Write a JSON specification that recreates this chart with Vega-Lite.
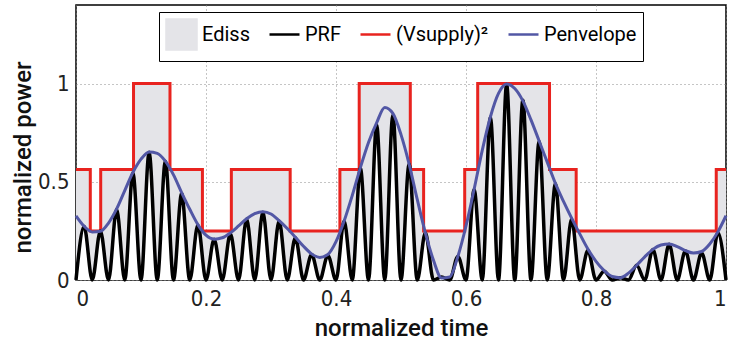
{
  "$schema": "https://vega.github.io/schema/vega-lite/v6.json",
  "width": 650,
  "height": 275,
  "autosize": {"type": "none"},
  "padding": {"left": 76, "top": 5, "right": 8, "bottom": 62},
  "background": "white",
  "config": {
    "view": {"stroke": "#000000", "strokeWidth": 1.5},
    "axis": {
      "domain": false,
      "ticks": false,
      "grid": true,
      "gridColor": "#8a8a8a",
      "gridDash": [1, 3],
      "gridWidth": 1,
      "labelFont": "Liberation Sans Narrow, DejaVu Sans Condensed, sans-serif",
      "labelFontSize": 22,
      "labelColor": "#222222",
      "titleFont": "Roboto, sans-serif",
      "titleFontWeight": 500,
      "titleFontSize": 24,
      "titleColor": "#111111"
    },
    "legend": {
      "title": null,
      "orient": "none",
      "legendX": 83,
      "legendY": 7,
      "direction": "horizontal",
      "columns": 4,
      "gridAlign": "none",
      "columnPadding": 14,
      "padding": 6,
      "fillColor": "white",
      "strokeColor": "#000000",
      "labelFont": "Roboto, sans-serif",
      "labelFontSize": 20,
      "labelColor": "#000000",
      "labelOffset": 4,
      "symbolSize": 900
    }
  },
  "datasets": {
    "supply": [
      {"t": 0, "v": 0.5625}, {"t": 0.022, "v": 0.25}, {"t": 0.038, "v": 0.5625},
      {"t": 0.0885, "v": 1}, {"t": 0.1446, "v": 0.5625}, {"t": 0.1945, "v": 0.25},
      {"t": 0.239, "v": 0.5625}, {"t": 0.3295, "v": 0.25}, {"t": 0.406, "v": 0.5625},
      {"t": 0.4357, "v": 1}, {"t": 0.5143, "v": 0.5625}, {"t": 0.5348, "v": 0.25},
      {"t": 0.598, "v": 0.5625}, {"t": 0.618, "v": 1}, {"t": 0.7285, "v": 0.5625},
      {"t": 0.7695, "v": 0.25}, {"t": 0.985, "v": 0.5625}, {"t": 1, "v": 0.5625}
    ],
    "rf": [
      {"t":0,"p":0},{"t":0.0125,"p":0.272},{"t":0.025,"p":0},{"t":0.0375,"p":0.25},{"t":0.05,"p":0},{"t":0.0625,"p":0.36},{"t":0.075,"p":0},{"t":0.0875,"p":0.545},{"t":0.1,"p":0},{"t":0.1125,"p":0.65},{"t":0.125,"p":0},{"t":0.1375,"p":0.605},{"t":0.15,"p":0},{"t":0.1625,"p":0.44},{"t":0.175,"p":0},{"t":0.1875,"p":0.28},{"t":0.2,"p":0},{"t":0.2125,"p":0.208},{"t":0.225,"p":0},{"t":0.2375,"p":0.235},{"t":0.25,"p":0},{"t":0.2625,"p":0.31},{"t":0.275,"p":0},{"t":0.2875,"p":0.345},{"t":0.3,"p":0},{"t":0.3125,"p":0.3},{"t":0.325,"p":0},{"t":0.3375,"p":0.215},{"t":0.35,"p":0},{"t":0.3625,"p":0.13},{"t":0.375,"p":0},{"t":0.3875,"p":0.125},{"t":0.4,"p":0},{"t":0.4125,"p":0.3},{"t":0.425,"p":0},{"t":0.4375,"p":0.57},{"t":0.45,"p":0},{"t":0.4625,"p":0.79},{"t":0.475,"p":0},{"t":0.4875,"p":0.84},{"t":0.5,"p":0},{"t":0.5125,"p":0.59},{"t":0.525,"p":0},{"t":0.5375,"p":0.24},{"t":0.55,"p":0},{"t":0.5625,"p":0.015},{"t":0.575,"p":0},{"t":0.5875,"p":0.12},{"t":0.6,"p":0},{"t":0.6125,"p":0.46},{"t":0.625,"p":0},{"t":0.6375,"p":0.83},{"t":0.65,"p":0},{"t":0.6625,"p":0.995},{"t":0.675,"p":0},{"t":0.6875,"p":0.915},{"t":0.7,"p":0},{"t":0.7125,"p":0.706},{"t":0.725,"p":0},{"t":0.7375,"p":0.49},{"t":0.75,"p":0},{"t":0.7625,"p":0.31},{"t":0.775,"p":0},{"t":0.7875,"p":0.15},{"t":0.8,"p":0},{"t":0.8125,"p":0.045},{"t":0.825,"p":0},{"t":0.8375,"p":0.012},{"t":0.85,"p":0},{"t":0.8625,"p":0.075},{"t":0.875,"p":0},{"t":0.8875,"p":0.155},{"t":0.9,"p":0},{"t":0.9125,"p":0.182},{"t":0.925,"p":0},{"t":0.9375,"p":0.148},{"t":0.95,"p":0},{"t":0.9625,"p":0.138},{"t":0.975,"p":0},{"t":0.9875,"p":0.24},{"t":1,"p":0}
    ],
    "env": [
      {"t":0,"p":0.327},{"t":0.0125,"p":0.274},{"t":0.025,"p":0.245},{"t":0.0375,"p":0.248},{"t":0.05,"p":0.29},{"t":0.0625,"p":0.362},{"t":0.075,"p":0.455},{"t":0.0875,"p":0.547},{"t":0.1,"p":0.615},{"t":0.1125,"p":0.652},{"t":0.125,"p":0.645},{"t":0.1375,"p":0.605},{"t":0.15,"p":0.535},{"t":0.1625,"p":0.445},{"t":0.175,"p":0.36},{"t":0.1875,"p":0.282},{"t":0.2,"p":0.228},{"t":0.2125,"p":0.208},{"t":0.225,"p":0.215},{"t":0.2375,"p":0.24},{"t":0.25,"p":0.275},{"t":0.2625,"p":0.312},{"t":0.275,"p":0.338},{"t":0.2875,"p":0.348},{"t":0.3,"p":0.336},{"t":0.3125,"p":0.302},{"t":0.325,"p":0.262},{"t":0.3375,"p":0.218},{"t":0.35,"p":0.172},{"t":0.3625,"p":0.133},{"t":0.375,"p":0.115},{"t":0.3875,"p":0.13},{"t":0.4,"p":0.195},{"t":0.4125,"p":0.3},{"t":0.425,"p":0.43},{"t":0.4375,"p":0.572},{"t":0.45,"p":0.7},{"t":0.4625,"p":0.8},{"t":0.475,"p":0.878},{"t":0.4875,"p":0.848},{"t":0.5,"p":0.74},{"t":0.5125,"p":0.59},{"t":0.525,"p":0.41},{"t":0.5375,"p":0.24},{"t":0.55,"p":0.1},{"t":0.5625,"p":0.01},{"t":0.575,"p":0.015},{"t":0.5875,"p":0.12},{"t":0.6,"p":0.275},{"t":0.6125,"p":0.462},{"t":0.625,"p":0.66},{"t":0.6375,"p":0.83},{"t":0.65,"p":0.95},{"t":0.6625,"p":0.998},{"t":0.675,"p":0.975},{"t":0.6875,"p":0.912},{"t":0.7,"p":0.815},{"t":0.7125,"p":0.708},{"t":0.725,"p":0.6},{"t":0.7375,"p":0.492},{"t":0.75,"p":0.4},{"t":0.7625,"p":0.315},{"t":0.775,"p":0.235},{"t":0.7875,"p":0.158},{"t":0.8,"p":0.095},{"t":0.8125,"p":0.048},{"t":0.825,"p":0.018},{"t":0.8375,"p":0.012},{"t":0.85,"p":0.035},{"t":0.8625,"p":0.075},{"t":0.875,"p":0.118},{"t":0.8875,"p":0.156},{"t":0.9,"p":0.178},{"t":0.9125,"p":0.183},{"t":0.925,"p":0.17},{"t":0.9375,"p":0.15},{"t":0.95,"p":0.137},{"t":0.9625,"p":0.145},{"t":0.975,"p":0.183},{"t":0.9875,"p":0.245},{"t":1,"p":0.327}
    ]
  },
  "encoding": {
    "x": {
      "field": "t", "type": "quantitative",
      "scale": {"domain": [0, 1], "nice": false, "zero": false},
      "axis": {"values": [0, 0.2, 0.4, 0.6, 0.8, 1], "format": "~g", "title": "normalized time", "labelPadding": 8, "titlePadding": 7}
    }
  },
  "layer": [
    {
      "data": {"name": "supply"},
      "mark": {"type": "area", "interpolate": "step-after", "opacity": 1},
      "encoding": {
        "y": {
          "field": "v", "type": "quantitative",
          "scale": {"domain": [0, 1.4], "nice": false},
          "axis": {"values": [0, 0.5, 1], "format": "~g", "title": "normalized power", "labelPadding": 7, "titlePadding": 2, "titleY": 152}
        },
        "color": {
          "datum": "Ediss", "type": "nominal",
          "scale": {
            "domain": ["Ediss", "PRF", "(Vsupply)²", "Penvelope"],
            "range": ["#e4e4e8", "#000000", "#e8231f", "#5257a5"]
          },
          "legend": {
            "symbolType": {"expr": "datum.value === 'Ediss' ? 'square' : 'stroke'"},
            "symbolStrokeColor": {"expr": "datum.value === 'Ediss' ? '#8a8a8a' : (datum.value === 'PRF' ? '#000000' : (datum.value === 'Penvelope' ? '#5257a5' : '#e8231f'))"},
            "symbolStrokeWidth": 2.5
          }
        }
      }
    },
    {
      "data": {"name": "rf"},
      "mark": {"type": "area", "interpolate": "monotone", "fill": "white", "opacity": 1},
      "encoding": {"y": {"field": "p", "type": "quantitative"}}
    },
    {
      "data": {"name": "supply"},
      "mark": {"type": "line", "interpolate": "step-after", "strokeWidth": 3, "strokeJoin": "miter"},
      "encoding": {
        "y": {"field": "v", "type": "quantitative"},
        "color": {"datum": "(Vsupply)²", "type": "nominal", "legend": null}
      }
    },
    {
      "data": {"name": "rf"},
      "mark": {"type": "line", "interpolate": "monotone", "strokeWidth": 3.5, "strokeJoin": "round"},
      "encoding": {
        "y": {"field": "p", "type": "quantitative"},
        "color": {"datum": "PRF", "type": "nominal", "legend": null}
      }
    },
    {
      "data": {"name": "env"},
      "mark": {"type": "line", "interpolate": "monotone", "strokeWidth": 3, "strokeJoin": "round"},
      "encoding": {
        "y": {"field": "p", "type": "quantitative"},
        "color": {"datum": "Penvelope", "type": "nominal", "legend": null}
      }
    }
  ]
}
